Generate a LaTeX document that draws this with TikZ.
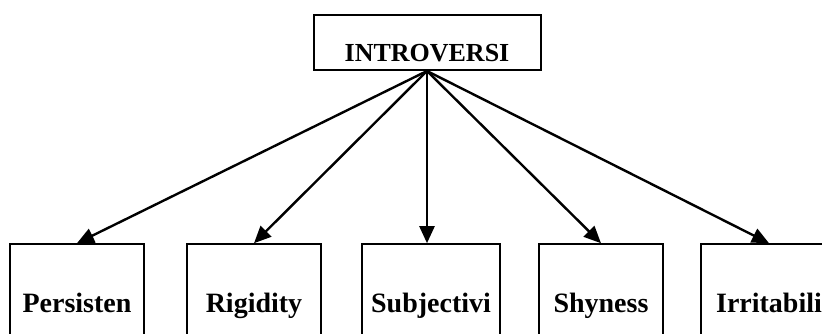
\documentclass[tikz,border=0pt]{standalone}
\usepackage{fontspec}
\setmainfont{Liberation Serif}
\usetikzlibrary{arrows.meta}
\begin{document}
\begin{tikzpicture}[x=1pt,y=1pt,
    box/.style={draw, line width=2pt, inner sep=0pt, minimum height=133pt,
      font=\fontsize{28}{30}\selectfont\bfseries, text height=0.7em, text depth=0.25em},
    link/.style={line width=2.4pt, -{Triangle[length=17pt,width=15pt]}}]
    \useasboundingbox (0,0) rectangle (822,333);
    
    % Top box
    \node[draw, line width=2pt, inner sep=0pt, minimum width=227pt, minimum height=55pt,
      font=\fontsize{26}{28}\selectfont\bfseries, text height=37pt, text depth=0pt]
      (intro) at (427,290.5) {INTROVERSI};
    
    % Bottom boxes
    \node[box, minimum width=134pt] (pers) at (77,22.3) {Persisten};
    \node[box, minimum width=134pt] (rigid) at (254,22.3) {Rigidity};
    \node[box, minimum width=138pt] (subj) at (431,22.3) {Subjectivi};
    \node[box, minimum width=124pt] (shy) at (601,22.3) {Shyness};
    \node[box, minimum width=136pt] (irrit) at (769,22.3) {Irritabili};
    
    % Arrows
    \foreach \b in {pers,rigid,shy,irrit}
        \draw[link] (intro.south) -- (\b.north);
    \draw[link] (intro.south) -- (intro.south |- subj.north);
\end{tikzpicture}
\end{document}
